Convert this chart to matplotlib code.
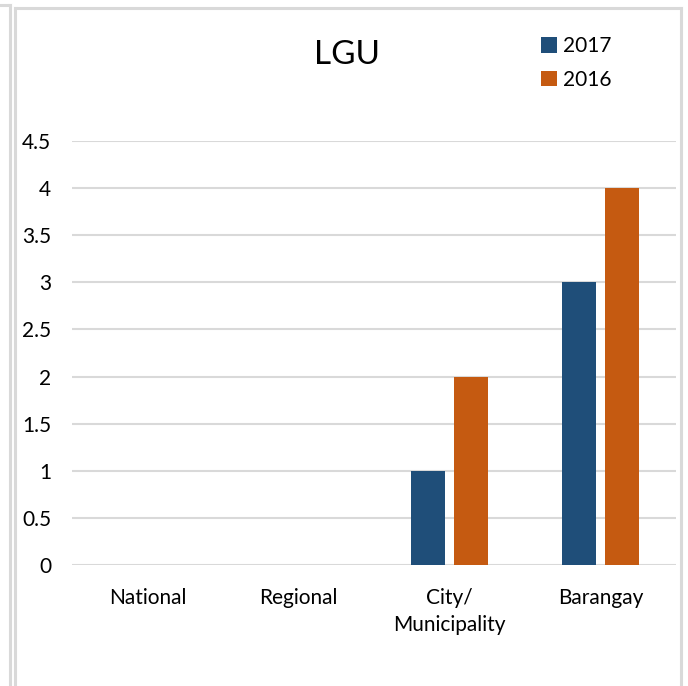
import matplotlib.pyplot as plt
import numpy as np
from matplotlib.lines import Line2D

plt.rcParams['font.family'] = ['Lato', 'DejaVu Sans']

categories = ['National', 'Regional', 'City/\nMunicipality', 'Barangay']
values_2017 = [0, 0, 1, 3]
values_2016 = [0, 0, 2, 4]
y_ticks = [0, 0.5, 1, 1.5, 2, 2.5, 3, 3.5, 4, 4.5]
y_labels = ['0', '0.5', '1', '1.5', '2', '2.5', '3', '3.5', '4', '4.5']

W, H = 688, 686
fig = plt.figure(figsize=(W / 100, H / 100), dpi=100)
ax = fig.add_axes([72 / W, 1 - 565 / H, 604 / W, 424 / H])

x = np.arange(len(categories))
bw = 0.225
off = 0.143
ax.bar(x - off, values_2017, bw, color='#1F4E79', label='2017', zorder=3)
ax.bar(x + off, values_2016, bw, color='#C55A11', label='2016', zorder=3)

ax.set_xlim(-0.5, 3.5)
ax.set_ylim(0, 4.5)
ax.set_yticks(y_ticks)
ax.set_yticklabels(y_labels)
ax.set_xticks(x)
ax.set_xticklabels(categories, linespacing=1.45)
ax.tick_params(axis='y', length=0, pad=15, labelsize=15)
ax.tick_params(axis='x', length=0, pad=16.5, labelsize=15)
for lbl in ax.get_yticklabels():
    lbl.set_horizontalalignment('right')
ax.yaxis.grid(True, color='#D9D9D9', linewidth=1.5, zorder=0)
ax.set_axisbelow(True)
for s in ax.spines.values():
    s.set_visible(False)

fig.text(347 / W, 1 - 55 / H, 'LGU', fontsize=24, ha='center', va='center')

fig.legend(loc='upper left', bbox_to_anchor=(533 / W, 1 - 28 / H),
           frameon=False, fontsize=15, handlelength=0.75, handleheight=0.75,
           handletextpad=0.3, labelspacing=0.65, borderaxespad=0)

# chart frame lines
border = '#D9D9D9'
def fline(xs, ys):
    fig.add_artist(Line2D([v / W for v in xs], [1 - v / H for v in ys],
                          color=border, linewidth=2.2, transform=fig.transFigure))

fline([0, 9.5], [5, 5])
fline([9.5, 9.5], [5, H])
fline([14.5, 681], [8, 8])
fline([14.5, 14.5], [8, H])
fline([681, 681], [8, H])

fig.savefig('out.png', dpi=100, facecolor='white')
